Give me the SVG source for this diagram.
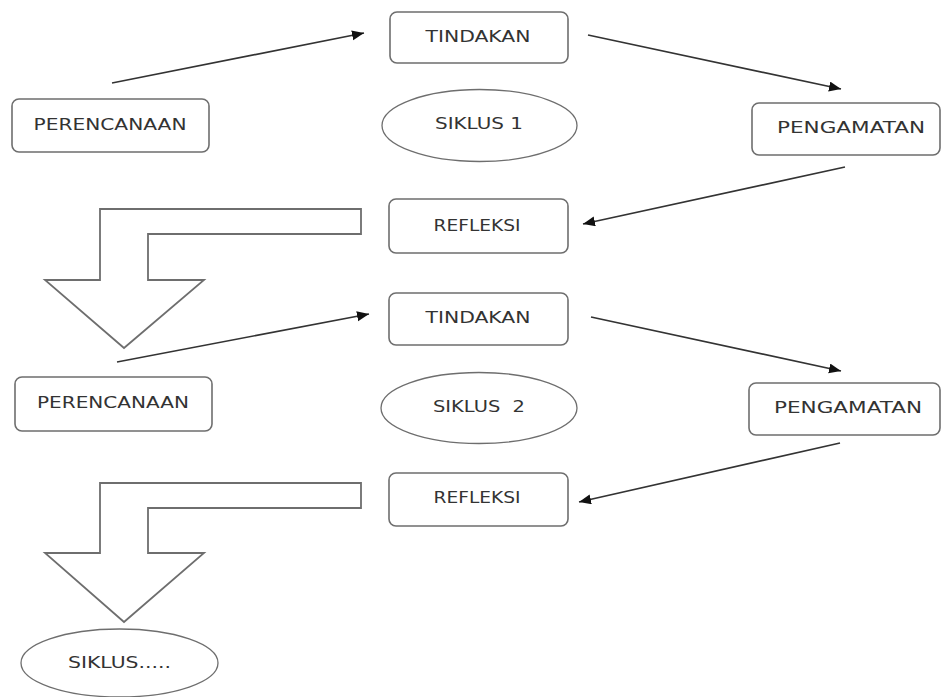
<svg xmlns="http://www.w3.org/2000/svg" width="941" height="697" viewBox="0 0 941 697">
<style>
.box{fill:#fff;stroke:#6e6e6e;stroke-width:1.6}
.ell{fill:#fff;stroke:#6e6e6e;stroke-width:1.3}
.big{fill:#fff;stroke:#6e6e6e;stroke-width:1.8;stroke-linejoin:miter}
.lbl{font-family:"DejaVu Sans","Liberation Sans",sans-serif;font-size:15px;fill:#333;text-anchor:middle;dominant-baseline:central}
.con{stroke:#333;stroke-width:1.6;fill:none;marker-end:url(#ah)}
</style>
<defs>
<marker id="ah" markerUnits="userSpaceOnUse" markerWidth="14" markerHeight="12" refX="12" refY="5" orient="auto">
<path d="M0,0 L12,5 L0,10 Z" fill="#111"/>
</marker>
</defs>
<rect width="941" height="697" fill="#fff"/>
<g id="connectors">
<line class="con" x1="112" y1="83" x2="364" y2="33"/>
<line class="con" x1="588" y1="35" x2="841" y2="89"/>
<line class="con" x1="845" y1="167" x2="583" y2="224"/>
<line class="con" x1="117" y1="362" x2="369" y2="314"/>
<line class="con" x1="591" y1="317" x2="841" y2="371"/>
<line class="con" x1="840" y1="443" x2="579" y2="502"/>
</g>
<g id="bigarrow1"><polygon class="big" points="361,209 100,209 100,280 45,280 124,348 204,280 148,280 148,234 361,234"/></g>
<g id="bigarrow2"><polygon class="big" points="361,483 100,483 100,553 45,553 124,622 204,553 148,553 148,508 361,508"/></g>
<g id="tindakan1"><rect class="box" x="390" y="12" width="178" height="51" rx="7"/><text class="lbl" x="478" y="37" textLength="105" lengthAdjust="spacingAndGlyphs">TINDAKAN</text></g>
<g id="perencanaan1"><rect class="box" x="12" y="99" width="197" height="53" rx="7"/><text class="lbl" x="110" y="125" textLength="153" lengthAdjust="spacingAndGlyphs">PERENCANAAN</text></g>
<g id="siklus1"><ellipse class="ell" cx="479.5" cy="125.5" rx="97.5" ry="36"/><text class="lbl" x="479" y="124" textLength="88" lengthAdjust="spacingAndGlyphs">SIKLUS 1</text></g>
<g id="pengamatan1"><rect class="box" x="752" y="103" width="188" height="52" rx="7"/><text class="lbl" x="851" y="128" textLength="148" lengthAdjust="spacingAndGlyphs">PENGAMATAN</text></g>
<g id="refleksi1"><rect class="box" x="389" y="199" width="179" height="54" rx="7"/><text class="lbl" x="477" y="226" textLength="87" lengthAdjust="spacingAndGlyphs">REFLEKSI</text></g>
<g id="tindakan2"><rect class="box" x="389" y="293" width="179" height="52" rx="7"/><text class="lbl" x="478" y="318" textLength="105" lengthAdjust="spacingAndGlyphs">TINDAKAN</text></g>
<g id="perencanaan2"><rect class="box" x="15" y="377" width="197" height="54" rx="7"/><text class="lbl" x="113" y="403" textLength="152" lengthAdjust="spacingAndGlyphs">PERENCANAAN</text></g>
<g id="siklus2"><ellipse class="ell" cx="479" cy="408" rx="98" ry="35.5"/><text class="lbl" x="479" y="407" textLength="92" lengthAdjust="spacingAndGlyphs" xml:space="preserve">SIKLUS  2</text></g>
<g id="pengamatan2"><rect class="box" x="749" y="383" width="191" height="52" rx="7"/><text class="lbl" x="848" y="408" textLength="148" lengthAdjust="spacingAndGlyphs">PENGAMATAN</text></g>
<g id="refleksi2"><rect class="box" x="389" y="473" width="179" height="53" rx="7"/><text class="lbl" x="477" y="498" textLength="87" lengthAdjust="spacingAndGlyphs">REFLEKSI</text></g>
<g id="siklus3"><ellipse class="ell" cx="119.5" cy="663" rx="98.5" ry="34"/><text class="lbl" x="119.5" y="663" textLength="103" lengthAdjust="spacingAndGlyphs">SIKLUS.....</text></g>
</svg>
